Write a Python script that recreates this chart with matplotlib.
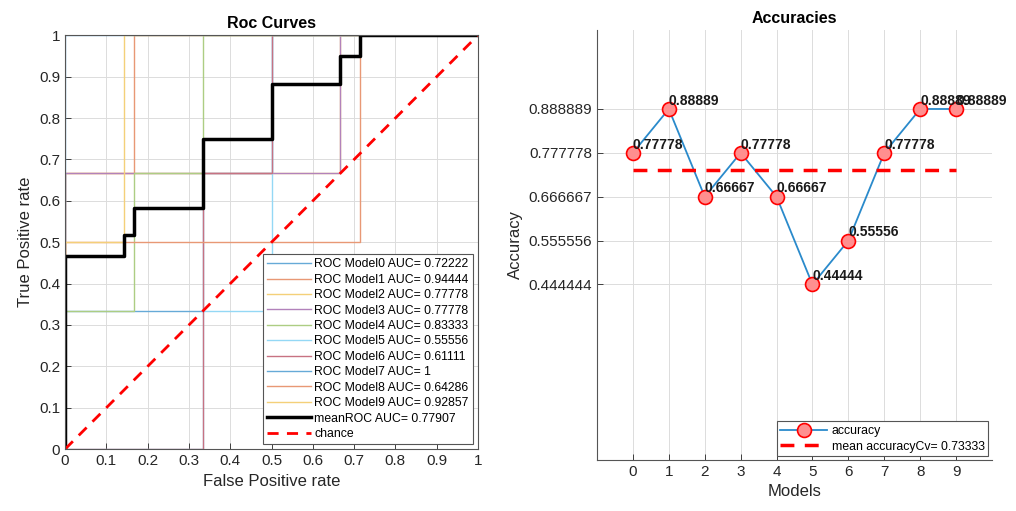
import numpy as np
import matplotlib
matplotlib.use('Agg')
import matplotlib.pyplot as plt
from matplotlib.colors import to_rgb

plt.rcParams['font.family'] = ['Liberation Sans', 'DejaVu Sans']

# ROC curves of each model (fpr, tpr)
roc_fpr = [
    [0, 0, 1/3, 1/3, 1/2, 1/2, 1],
    [0, 0, 1/6, 1/6, 1],
    [0, 0, 2/3, 2/3, 1],
    [0, 0, 2/3, 2/3, 1],
    [0, 0, 1/6, 1/6, 1/3, 1/3, 1],
    [0, 1/3, 1/3, 1/2, 1/2, 1],
    [0, 1/3, 1/3, 1/2, 1/2, 1],
    [0, 0, 1],
    [0, 0, 5/7, 5/7, 1],
    [0, 0, 1/7, 1/7, 1],
]
roc_tpr = [
    [0, 1/3, 1/3, 2/3, 2/3, 1, 1],
    [0, 2/3, 2/3, 1, 1],
    [0, 2/3, 2/3, 1, 1],
    [0, 2/3, 2/3, 1, 1],
    [0, 1/3, 1/3, 2/3, 2/3, 1, 1],
    [0, 0, 1/3, 1/3, 1, 1],
    [0, 0, 2/3, 2/3, 1, 1],
    [0, 1, 1],
    [0, 0.5, 0.5, 1, 1],
    [0, 0.5, 0.5, 1, 1],
]
auc = [0.72222, 0.94444, 0.77778, 0.77778, 0.83333, 0.55556, 0.61111, 1, 0.64286, 0.92857]

mean_fpr = [0, 0, 1/7, 1/7, 1/6, 1/6, 1/3, 1/3, 1/2, 1/2, 2/3, 2/3, 5/7, 5/7, 1]
mean_tpr = [0, 0.46667, 0.46667, 0.51667, 0.51667, 0.58333, 0.58333, 0.75, 0.75,
            0.88333, 0.88333, 0.95, 0.95, 1, 1]
mean_auc = 0.77907

models = list(range(10))
accuracy = [0.777778, 0.888889, 0.666667, 0.777778, 0.666667,
            0.444444, 0.555556, 0.777778, 0.888889, 0.888889]
mean_acc = 0.73333

colors = ['#0072BD', '#D95319', '#EDB120', '#7E2F8E', '#77AC30',
          '#4DBEEE', '#A2142F', '#0072BD', '#D95319', '#EDB120']
axcol = '#262626'


def lighten(c, f=0.4):
    r, g, b = to_rgb(c)
    return (r + (1 - r) * f, g + (1 - g) * f, b + (1 - b) * f)


fig = plt.figure(figsize=(10.16, 5.11), dpi=100)
ax1 = fig.add_axes([0.064, 0.121, 0.4065, 0.810])
ax2 = fig.add_axes([0.5876, 0.0998, 0.3888, 0.8415])

for ax in (ax1, ax2):
    ax.grid(True, color='#dcdcdc', linewidth=0.7)
    ax.set_axisbelow(True)
    ax.tick_params(direction='in', colors=axcol, labelsize=11, length=4, width=0.6)
    for s in ax.spines.values():
        s.set_color('#555555')
        s.set_linewidth(0.8)

# left: ROC curves
for i in range(10):
    ax1.plot(roc_fpr[i], roc_tpr[i], color=lighten(colors[i]), linewidth=1.0,
             label='ROC Model%d AUC= %g' % (i, auc[i]))
ax1.plot(mean_fpr, mean_tpr, color='black', linewidth=2.5,
         label='meanROC AUC= %g' % mean_auc)
ax1.plot([0, 1], [0, 1], color='red', linestyle='--', linewidth=2, dashes=(4, 3),
         label='chance')
ax1.set_xlim(0, 1)
ax1.set_ylim(0, 1)
ticks = np.round(np.arange(0, 1.01, 0.1), 1)
ax1.set_xticks(ticks)
ax1.set_yticks(ticks)
ax1.set_xticklabels(['%g' % t for t in ticks])
ax1.set_yticklabels(['%g' % t for t in ticks])
ax1.set_xlabel('False Positive rate', fontsize=12, color=axcol)
ax1.set_ylabel('True Positive rate', fontsize=12, color=axcol)
ax1.set_title('Roc Curves', fontsize=11.5, fontweight='bold', pad=5)
leg1 = ax1.legend(loc='lower right', fontsize=8.8, labelspacing=0.28, handlelength=3.6,
                  handletextpad=0.3, borderpad=0.35, fancybox=False, framealpha=1,
                  borderaxespad=0.4)
leg1.get_frame().set_edgecolor('#555555')
leg1.get_frame().set_linewidth(0.8)

# right: accuracies
ax2.plot(models, accuracy, color='#2a8acb', linewidth=1.3, marker='o', markersize=10,
         markerfacecolor='#ff8f8f', markeredgecolor='red', markeredgewidth=1.2,
         label='accuracy')
ax2.plot([models[0], models[-1]], [mean_acc, mean_acc], color='red', linestyle='--',
         linewidth=2.5, dashes=(4, 3), label='mean accuracyCv= %g' % mean_acc)
for x, y in zip(models, accuracy):
    ax2.annotate('%.5g' % y, (x, y), xytext=(0, 6), textcoords='offset points',
                 fontsize=10, fontweight='bold', ha='left', va='center', color='#1a1a1a')
ax2.set_xlim(-1, 10)
ax2.set_ylim(0, max(accuracy) + 0.2)
ax2.set_xticks(models)
yt = sorted(set(accuracy))
ax2.set_yticks(yt)
ax2.set_yticklabels(['%.6f' % v for v in yt])
ax2.spines['top'].set_visible(False)
ax2.spines['right'].set_visible(False)
ax2.set_xlabel('Models', fontsize=12, color=axcol)
ax2.set_ylabel('Accuracy', fontsize=12, color=axcol)
ax2.set_title('Accuracies', fontsize=11.5, fontweight='bold', pad=5)
leg2 = ax2.legend(loc='lower right', fontsize=8.8, labelspacing=0.3, handlelength=3.8,
                  handletextpad=0.4, borderpad=0.3, fancybox=False, framealpha=1,
                  borderaxespad=0.3)
leg2.get_frame().set_edgecolor('#555555')
leg2.get_frame().set_linewidth(0.8)

fig.savefig('out.png', dpi=100)
